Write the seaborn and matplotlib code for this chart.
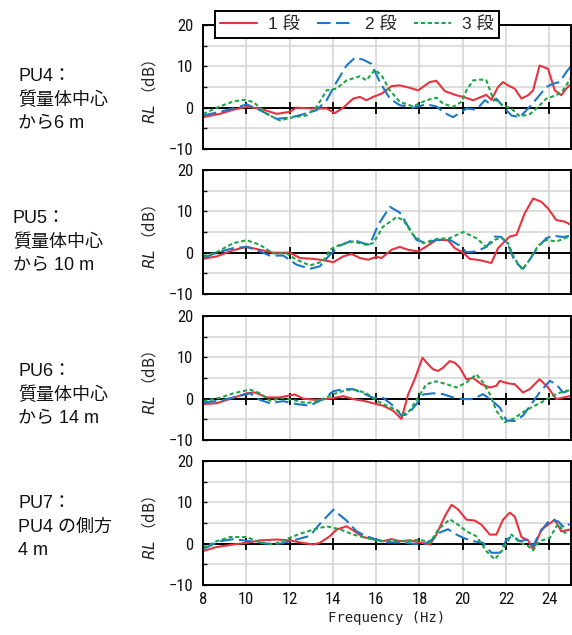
import matplotlib
matplotlib.use("Agg")
import matplotlib.pyplot as plt
from matplotlib import font_manager
import pandas as pd
import seaborn as sns
from matplotlib.ticker import MultipleLocator, FixedLocator

sns.set_theme(style="white")
_names = {f.name for f in font_manager.fontManager.ttflist}
NARROW = next((n for n in ["Liberation Sans Narrow", "DejaVu Sans Condensed", "Roboto Condensed",
                           "Open Sans Condensed", "Noto Sans Display"] if n in _names), "DejaVu Sans")
plt.rcParams["font.family"] = [NARROW, "DejaVu Sans"]
plt.rcParams["axes.unicode_minus"] = True

SERIES = ["1 段", "2 段", "3 段"]
COLORS = ["#E8333F", "#1A77C9", "#1EA548"]
PANEL_LABELS = [
    "PU4：\n質量体中心\nから6 m",
    "PU5：\n質量体中心\nから 10 m",
    "PU6：\n質量体中心\nから 14 m",
    "PU7：\nPU4 の側方\n4 m",
]
X_TICKS = [8, 10, 12, 14, 16, 18, 20, 22, 24]
ZERO_TICKS = [10, 12, 14, 16, 18, 20, 22, 24]
Y_TICKS = [-10, 0, 10, 20]

# ---------------- data: (frequency Hz, RL dB) ----------------
pu4_s1 = [(8.00, -2.3), (8.78, -1.5), (9.40, -0.5), (10.02, 0.2), (10.63, -0.2), (11.40, -1.5),
          (12.02, -1.0), (12.32, 0.0), (13.09, -0.2), (13.71, -0.2), (14.09, -1.3), (14.48, 0.0),
          (14.94, 2.2), (15.25, 2.6), (15.55, 1.8), (15.86, 2.6), (16.25, 3.4), (16.71, 5.2),
          (17.09, 5.4), (17.55, 4.8), (17.94, 4.2), (18.48, 6.2), (18.78, 6.5), (19.17, 4.0),
          (19.71, 3.0), (20.02, 2.6), (20.25, 2.2), (20.48, 1.8), (20.71, 2.3), (21.09, 3.1),
          (21.32, 1.9), (21.63, 5.0), (21.86, 6.2), (22.09, 5.4), (22.40, 4.6), (22.71, 2.2),
          (23.02, 3.0), (23.25, 4.2), (23.55, 10.2), (23.94, 9.4), (24.25, 4.2), (24.55, 3.0),
          (24.78, 4.6), (25.02, 5.8)]
pu4_s2 = [(8.00, -1.9), (8.78, -1.0), (9.40, -0.2), (10.02, 0.8), (10.63, -0.6), (11.40, -2.7),
          (12.02, -2.4), (12.63, -1.6), (13.25, -0.6), (13.71, 1.8), (14.17, 6.2), (14.63, 10.2),
          (15.02, 12.1), (15.40, 11.6), (15.78, 10.6), (16.17, 6.2), (16.63, 2.2), (17.09, 0.6),
          (17.71, 0.0), (18.32, 0.8), (18.78, 0.3), (19.17, -1.3), (19.55, -2.3), (19.94, -1.0),
          (20.17, -0.2), (20.63, -0.5), (21.02, 1.8), (21.25, 1.0), (21.55, 2.2), (21.94, -0.2),
          (22.25, -1.9), (22.63, -2.3), (23.09, 0.2), (23.48, 2.6), (23.86, 5.0), (24.17, 5.8),
          (24.48, 6.2), (24.78, 8.6), (25.02, 10.2)]
pu4_s3 = [(8.00, -1.5), (8.78, 0.3), (9.40, 1.5), (9.86, 1.9), (10.32, 1.4), (10.94, -1.5),
          (11.55, -3.1), (12.17, -2.3), (12.78, -1.9), (13.25, 0.2), (13.71, 4.2), (14.17, 4.6),
          (14.63, 6.6), (15.25, 7.6), (15.55, 6.6), (15.94, 9.2), (16.25, 7.8), (16.63, 4.2),
          (17.09, 1.4), (17.71, 0.3), (18.32, 1.8), (18.78, 2.4), (19.09, 1.0), (19.55, 0.2),
          (19.94, 1.4), (20.17, 4.2), (20.48, 6.6), (20.86, 6.8), (21.09, 6.6), (21.40, 2.2),
          (21.86, 0.6), (22.25, -0.2), (22.63, -2.1), (23.09, -1.6), (23.40, -0.2), (23.86, 2.2),
          (24.32, 3.0), (24.63, 4.2), (25.02, 7.4)]

pu5_s1 = [(8.00, -1.5), (8.63, -0.9), (9.40, 0.6), (10.02, 1.4), (10.63, 0.7), (11.25, 0.0),
          (12.02, 0.0), (12.48, -1.3), (13.09, -1.5), (13.55, -1.8), (14.02, -2.3), (14.48, -0.9),
          (14.86, -0.3), (15.25, -1.3), (15.63, -1.7), (16.02, -1.0), (16.25, -1.3), (16.71, 0.7),
          (17.09, 1.4), (17.48, 0.7), (17.94, 0.3), (18.32, 1.5), (18.78, 3.1), (19.32, 3.0),
          (19.63, 1.1), (20.02, 0.0), (20.32, -1.5), (20.78, -1.8), (21.32, -2.5), (21.63, 1.1),
          (22.17, 3.9), (22.48, 4.3), (22.86, 9.5), (23.25, 13.1), (23.63, 12.3), (23.94, 10.7),
          (24.32, 7.9), (24.71, 7.5), (25.02, 6.7)]
pu5_s2 = [(8.00, -1.3), (8.63, 0.0), (9.40, 1.1), (10.02, 1.4), (10.63, 0.3), (11.09, -0.7),
          (11.71, -0.7), (12.32, -2.9), (12.94, -3.9), (13.40, -3.3), (13.86, -0.5), (14.32, 1.7),
          (14.94, 3.1), (15.40, 2.3), (15.71, 1.9), (16.09, 6.7), (16.63, 11.1), (17.09, 9.7),
          (17.48, 6.3), (17.86, 3.1), (18.32, 2.3), (18.78, 3.1), (19.40, 3.1), (19.86, 1.7),
          (20.17, 0.1), (20.63, 0.3), (21.09, 1.4), (21.48, 3.9), (21.78, 3.8), (22.09, 1.9),
          (22.40, -2.1), (22.78, -3.9), (23.09, -1.7), (23.48, 1.4), (23.86, 3.5), (24.17, 4.1),
          (24.63, 3.8), (25.02, 4.1)]
pu5_s3 = [(8.00, -0.9), (8.63, 0.1), (9.40, 2.3), (10.02, 3.0), (10.63, 1.9), (11.25, -0.2),
          (11.86, -0.2), (12.32, -1.7), (12.94, -3.1), (13.55, -2.1), (13.86, 0.7), (14.32, 1.9),
          (14.94, 2.7), (15.55, 1.9), (15.86, 2.3), (16.32, 6.3), (16.94, 8.6), (17.25, 7.9),
          (17.71, 4.3), (18.17, 2.3), (18.78, 3.3), (19.40, 3.5), (20.02, 5.0), (20.63, 3.5),
          (21.09, 1.4), (21.48, 3.1), (21.78, 3.7), (22.09, 2.3), (22.40, -1.5), (22.75, -4.1),
          (23.09, -1.7), (23.48, 1.7), (23.86, 3.1), (24.32, 2.7), (25.02, 4.1)]

pu6_s1 = [(8.00, -1.3), (8.63, -1.1), (9.40, 0.2), (10.02, 1.3), (10.40, 1.5), (10.94, 0.3),
          (11.55, 0.3), (12.02, 0.8), (12.25, 1.0), (12.63, 0.0), (13.25, -0.3), (13.86, 0.0),
          (14.48, 0.6), (14.94, -0.1), (15.40, -0.5), (15.86, -1.1), (16.32, -1.7), (16.78, -2.9),
          (17.17, -4.9), (17.48, 1.1), (17.78, 4.7), (18.14, 9.9), (18.40, 8.3), (18.63, 7.1),
          (18.86, 6.7), (19.09, 7.5), (19.40, 9.1), (19.63, 8.7), (19.86, 7.5), (20.17, 4.7),
          (20.48, 5.0), (20.86, 3.5), (21.25, 2.7), (21.55, 3.1), (21.71, 4.3), (22.09, 3.7),
          (22.40, 3.5), (22.78, 1.5), (23.09, 2.3), (23.55, 4.7), (23.94, 2.7), (24.32, -0.1),
          (25.02, 0.7)]
pu6_s2 = [(8.00, -0.9), (8.78, -0.5), (9.40, 0.3), (10.17, 1.3), (10.63, -0.3), (11.09, -1.1),
          (11.71, -0.6), (12.32, -1.3), (12.94, -1.7), (13.55, -0.1), (14.02, 1.8), (14.48, 2.3),
          (14.94, 2.3), (15.40, 1.3), (15.86, 0.2), (16.32, 0.2), (16.78, -1.7), (17.17, -4.1),
          (17.48, -3.7), (17.86, -1.3), (18.17, 1.0), (18.63, 1.3), (19.09, 1.1), (19.55, 0.3),
          (20.02, -0.1), (20.48, -0.1), (20.94, 1.1), (21.25, -0.1), (21.71, -2.1), (22.02, -5.3),
          (22.40, -5.4), (22.78, -4.1), (23.17, -1.3), (23.55, 1.5), (24.02, 4.3), (24.32, 3.5),
          (24.63, 1.5), (25.02, 2.1)]
pu6_s3 = [(8.00, -0.6), (8.78, 0.2), (9.40, 1.3), (10.17, 2.2), (10.63, 1.3), (11.09, -0.5),
          (11.71, 0.2), (12.32, -0.5), (12.78, -1.1), (13.40, -0.5), (14.02, 1.1), (14.63, 2.1),
          (15.09, 2.1), (15.55, 1.3), (16.02, -0.5), (16.48, -1.7), (16.94, -2.7), (17.25, -3.8),
          (17.55, -2.9), (17.94, 0.3), (18.32, 3.5), (18.78, 4.2), (19.25, 3.5), (19.71, 2.7),
          (20.17, 3.9), (20.63, 5.9), (20.94, 3.9), (21.25, 1.1), (21.55, -2.9), (21.94, -5.7),
          (22.32, -4.9), (22.78, -3.3), (23.17, -2.1), (23.63, -0.9), (24.02, 0.3), (24.40, 1.3),
          (24.78, 1.9), (25.02, 2.0)]

pu7_s1 = [(8.00, -1.8), (8.63, -0.8), (9.40, -0.2), (10.02, 0.2), (10.63, 0.8), (11.40, 1.0),
          (12.02, 0.8), (12.48, 0.3), (13.09, -0.2), (13.40, 0.2), (13.86, 1.8), (14.17, 3.4),
          (14.63, 4.2), (14.94, 3.2), (15.40, 1.6), (15.86, 1.1), (16.32, 0.6), (16.71, 1.1),
          (17.09, 0.6), (17.55, 0.8), (18.02, 0.3), (18.48, -0.2), (18.78, 2.2), (19.17, 6.6),
          (19.48, 9.4), (19.78, 8.3), (20.17, 5.8), (20.55, 5.6), (20.86, 4.6), (21.25, 2.2),
          (21.55, 2.2), (21.86, 5.8), (22.17, 7.5), (22.40, 6.6), (22.71, 1.6), (23.02, 0.8),
          (23.25, -1.4), (23.63, 3.4), (23.94, 4.6), (24.25, 5.8), (24.55, 3.0), (24.94, 3.4)]
pu7_s2 = [(8.00, -1.3), (8.78, 0.6), (9.40, 1.1), (10.17, 0.6), (10.94, 0.0), (11.55, 0.0),
          (12.32, 1.0), (12.94, 1.9), (13.40, 4.8), (14.02, 8.2), (14.63, 5.6), (15.09, 3.0),
          (15.55, 1.8), (16.02, 1.0), (16.48, 0.3), (17.09, 0.3), (17.71, 0.0), (18.17, -0.2),
          (18.63, 1.1), (18.94, 2.7), (19.32, 3.5), (19.71, 2.2), (20.02, 1.4), (20.48, 0.6),
          (20.94, 0.2), (21.32, -2.2), (21.71, -2.2), (22.02, 1.0), (22.32, 1.9), (22.63, 0.6),
          (23.02, 1.0), (23.25, -0.6), (23.55, 2.6), (24.02, 5.8), (24.40, 5.4), (24.71, 3.8),
          (24.94, 4.8)]
pu7_s3 = [(8.00, -1.0), (8.63, 0.6), (9.25, 1.6), (10.02, 1.6), (10.63, 0.3), (11.25, -0.2),
          (11.86, 1.1), (12.48, 2.4), (13.09, 3.4), (13.71, 4.2), (14.32, 3.5), (14.94, 2.2),
          (15.55, 1.4), (16.17, 0.6), (16.78, 0.6), (17.40, 0.6), (18.02, 1.0), (18.48, 0.2),
          (18.86, 3.4), (19.40, 5.9), (19.78, 4.6), (20.17, 3.0), (20.63, 1.8), (21.09, -1.8),
          (21.48, -3.8), (21.86, -1.4), (22.25, 2.2), (22.63, 0.3), (23.02, -0.6), (23.25, -1.6),
          (23.55, 0.6), (24.02, 1.4), (24.40, 4.8), (24.71, 2.6), (24.94, 3.4)]

PANELS = [
    (pu4_s1, pu4_s2, pu4_s3),
    (pu5_s1, pu5_s2, pu5_s3),
    (pu6_s1, pu6_s2, pu6_s3),
    (pu7_s1, pu7_s2, pu7_s3),
]

rows = []
for p, trio in enumerate(PANELS):
    for name, pts in zip(SERIES, trio):
        for f, v in pts:
            rows.append({"panel": p, "series": name, "freq": f, "RL": v})
df = pd.DataFrame(rows)

# ---------------- layout ----------------
W, H = 572, 635
fig = plt.figure(figsize=(W / 100, H / 100), dpi=100, facecolor="white")
AX_L, AX_R = 203, 571
AX_H = 124
TOPS = [25, 170, 316, 461]
LABEL_CY = [100, 242, 395, 527]
LABEL_X = [18, 13, 18, 18]

palette = dict(zip(SERIES, COLORS))
dashes = {SERIES[0]: "", SERIES[1]: (6.5, 2.6), SERIES[2]: (2.0, 1.3)}
grid_c = "#d3d3d3"

axes = []
for i, top in enumerate(TOPS):
    ax = fig.add_axes([AX_L / W, 1 - (top + AX_H) / H, (AX_R - AX_L) / W, AX_H / H])
    sub = df[df["panel"] == i]
    sns.lineplot(data=sub, x="freq", y="RL", hue="series", style="series",
                 hue_order=SERIES, style_order=SERIES, palette=palette, dashes=dashes,
                 linewidth=1.5, sort=False, estimator=None, legend=False, ax=ax)
    ax.set_xlim(8, 25)
    ax.set_ylim(-10, 20)
    ax.xaxis.set_major_locator(FixedLocator(X_TICKS))
    ax.yaxis.set_major_locator(FixedLocator(Y_TICKS))
    ax.yaxis.set_minor_locator(MultipleLocator(5))
    ax.grid(True, which="major", axis="x", color=grid_c, lw=1.1)
    ax.grid(True, which="both", axis="y", color=grid_c, lw=1.1)
    ax.set_axisbelow(True)
    for s in ax.spines.values():
        s.set_visible(True)
        s.set_color("black")
        s.set_linewidth(1.4)
    last = i == len(TOPS) - 1
    ax.tick_params(axis="x", which="both", length=0, labelbottom=last, labelsize=12, pad=5,
                   colors="#111111")
    ax.tick_params(axis="y", which="both", direction="in", length=3, width=1, left=True,
                   labelsize=12, pad=7, colors="#111111")
    ax.tick_params(axis="y", which="minor", labelleft=False)
    ax.set_xlabel("")
    ax.set_ylabel(r"$\mathit{RL}$ （dB）", fontsize=11, family=["Noto Sans CJK JP", "DejaVu Sans"],
                  color="#222222")
    ax.yaxis.set_label_coords(-0.122, 0.46)

    # zero line with tick marks
    sec = ax.secondary_xaxis(1 / 3)
    sec.set_zorder(1.5)
    sec.xaxis.set_major_locator(FixedLocator(ZERO_TICKS))
    sec.tick_params(axis="x", direction="inout", length=8, width=1.3, labelbottom=False,
                    labeltop=False, bottom=True, top=False, color="black")
    for s in sec.spines.values():
        s.set_linewidth(1.4)
        s.set_color("black")

    fig.text(LABEL_X[i] / W, 1 - LABEL_CY[i] / H, PANEL_LABELS[i], ha="left", va="center",
             fontsize=13, linespacing=1.5, family=["Liberation Sans", "Noto Sans CJK JP"],
             color="#111111")
    axes.append(ax)

axes[-1].set_xlabel("Frequency (Hz)", fontsize=10, family=["DejaVu Sans Mono"], labelpad=3,
                    color="#222222")

handles = axes[0].get_lines()[:3]
leg = fig.legend(handles, SERIES, loc="center", bbox_to_anchor=(357 / W, 1 - 24.5 / H),
                 ncol=3, handlelength=2.1, handletextpad=0.65, columnspacing=1.0,
                 frameon=True, fancybox=False, borderpad=0.3, borderaxespad=0,
                 prop={"family": ["Liberation Sans", "Noto Sans CJK JP"], "size": 12.5})
leg.get_frame().set_edgecolor("black")
leg.get_frame().set_linewidth(1.4)
leg.get_frame().set_facecolor("white")
leg.get_frame().set_alpha(1)

fig.savefig("out.png", dpi=100, facecolor="white")
